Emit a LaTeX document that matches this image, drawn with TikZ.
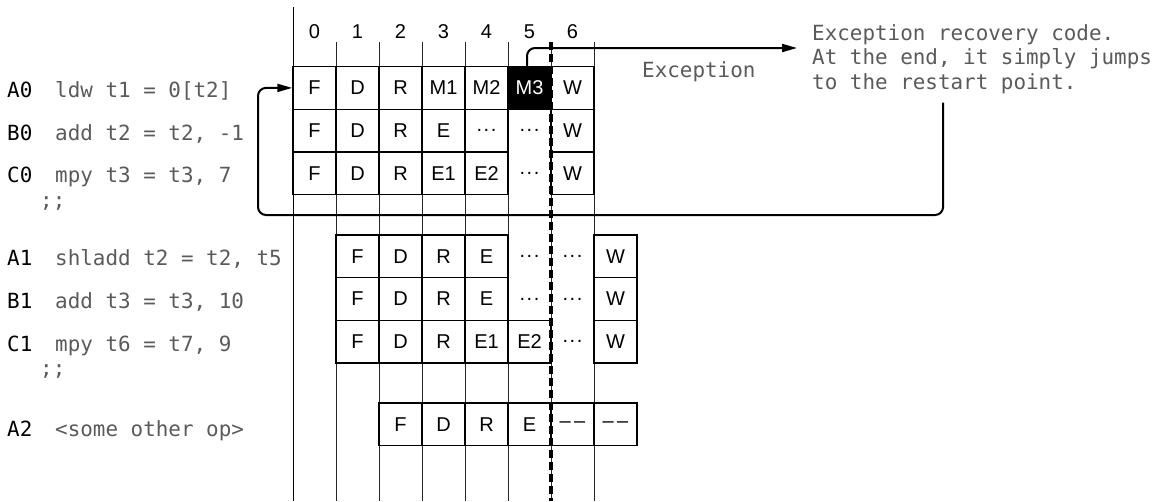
\documentclass[tikz,border=0pt]{standalone}
\usepackage{fontspec}
\setsansfont{Liberation Sans}
\newfontfamily\codefont{DejaVu Sans Mono}
\usetikzlibrary{arrows.meta,positioning,calc}
\definecolor{codegray}{RGB}{90,90,90}
\tikzset{
  stage/.style={draw=black, line width=1.5pt, minimum width=43pt, minimum height=42.7pt,
              inner sep=0pt, font=\sffamily\fontsize{20}{20}\selectfont},
  idle/.style={stage, draw=none},
  fault/.style={stage, fill=black, text=white},
  gridln/.style={draw=black!85, line width=0.9pt},
  flush/.style={draw=black, line width=3.6pt, dash pattern=on 8pt off 4pt},
  ar/.style={-{Triangle[length=15pt,width=8pt]}, draw=black, line width=2pt, rounded corners=8pt},
  code/.style={font=\codefont\fontsize{20.9}{24.5}\selectfont, text=codegray,
              inner sep=0pt, anchor=base west},
  tag/.style={code, text=black},
}
\newcommand{\wt}{.\kern1.5pt.\kern1.5pt.}
\newcommand{\nop}{\textendash\,\textendash}

\begin{document}
\begin{tikzpicture}[x=1pt, y=-1pt]
\useasboundingbox (0,0) rectangle (1166,501);
% time axis and cycle grid
\draw[gridln, draw=black] (293,7) -- (293,501);
\foreach \c in {1,...,7}
  \draw[gridln] (293+43*\c,42) -- (293+43*\c,501);
\foreach \c in {0,...,6}
  \node[font=\sffamily\fontsize{20}{20}\selectfont] (cyc\c) at (314.5+43*\c,32) {\c};

% instructions: {tag}{text}{y}
\foreach \tg/\txt/\yy in {A0/{ldw t1 = 0[t2]}/89.9, B0/{add t2 = t2, -1}/132.5,
    C0/{mpy t3 = t3, 7}/175.2, A1/{shladd t2 = t2, t5}/258.3,
    B1/{add t3 = t3, 10}/301, C1/{mpy t6 = t7, 9}/343.7, A2/{<some other op>}/429} {
  \node[tag] (tag\tg) at (7,\yy+7.5) {\tg};
  \node[code] (op\tg) at (55,\yy+7.5) {\txt};
}
\node[code] (stop0) at (40,207.2) {;;};
\node[code] (stop1) at (40,375.7) {;;};

% pipeline rows: {column}{stage}
\foreach \c/\t in {0/F,1/D,2/R,3/M1,4/M2,6/W}
  \node[stage] (a0s\c) at (314.5+43*\c,87.9) {\t};
\node[fault] (a0s5) at (529.5,87.9) {M3};
\foreach \c/\t in {0/F,1/D,2/R,3/E,4/\wt,6/W}
  \node[stage] (b0s\c) at (314.5+43*\c,130.6) {\t};
\node[idle] (b0s5) at (529.5,130.6) {\wt};
\foreach \c/\t in {0/F,1/D,2/R,3/E1,4/E2,6/W}
  \node[stage] (c0s\c) at (314.5+43*\c,173.3) {\t};
\node[idle] (c0s5) at (529.5,173.3) {\wt};

\foreach \r/\yy in {a1/256.3, b1/299} {
  \foreach \c/\t in {1/F,2/D,3/R,4/E,7/W}
    \node[stage] (\r s\c) at (314.5+43*\c,\yy) {\t};
  \foreach \c in {5,6}
    \node[idle] (\r s\c) at (314.5+43*\c,\yy) {\wt};
}
\foreach \c/\t in {1/F,2/D,3/R,4/E1,5/E2,7/W}
  \node[stage] (c1s\c) at (314.5+43*\c,341.7) {\t};
\node[idle] (c1s6) at (572.5,341.7) {\wt};
\foreach \c/\t in {2/F,3/D,4/R,5/E,6/\nop,7/\nop}
  \node[stage] (a2s\c) at (314.5+43*\c,424.3) {\t};

% flush point
\draw[flush] (551,42) -- (551,501);

% exception and restart
\node[code, anchor=north west, align=left] (recov) at (812,24)
  {Exception recovery code.\\At the end, it simply jumps\\to the restart point.};
\coordinate (exc) at (797,48);
\draw[ar] ([xshift=-2.5pt]a0s5.north) |- (exc);
\node[code] (exclbl) at (642,77.5) {Exception};
\coordinate (jmp) at ([xshift=-39pt,yshift=-9pt]recov.south);
\coordinate (loop) at (258,215);
\draw[ar] (jmp) |- (loop) |- (a0s0.west);
\end{tikzpicture}
\end{document}
